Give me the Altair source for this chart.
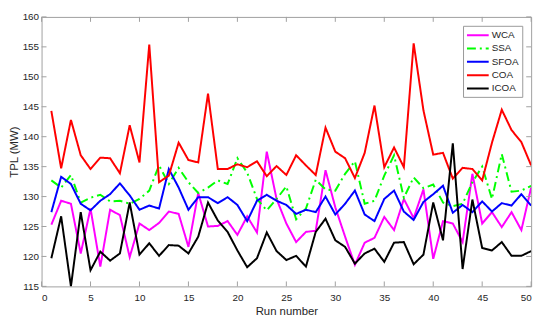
import altair as alt
import pandas as pd

runs = list(range(1, 51))
series_names = ["WCA", "SSA", "SFOA", "COA", "ICOA"]

wca = [125.3, 129.3, 128.8, 120.5, 128.0, 118.3, 127.8, 126.9, 119.9, 125.5,
       124.4, 125.6, 127.5, 127.1, 121.6, 130.6, 125.0, 125.1, 125.9, 123.6,
       126.7, 124.0, 137.5, 129.6, 125.5, 122.4, 124.1, 124.3, 134.4, 128.2,
       123.3, 118.6, 122.3, 123.1, 126.6, 124.4, 129.6, 126.4, 131.2, 119.6,
       125.9, 125.5, 122.4, 133.8, 125.5, 127.4, 124.9, 127.4, 124.4, 131.5]
ssa = [132.7, 131.5, 133.6, 129.0, 129.8, 130.3, 129.2, 129.3, 128.8, 129.6,
       131.0, 135.2, 132.1, 134.8, 132.4, 130.6, 131.5, 132.7, 132.1, 136.4,
       134.0, 129.6, 127.7, 129.6, 131.7, 126.2, 128.0, 132.8, 131.2, 131.0,
       133.8, 135.9, 128.8, 129.3, 133.5, 136.9, 129.8, 133.2, 131.4, 132.0,
       129.0, 128.4, 128.8, 132.4, 135.0, 129.6, 137.1, 130.8, 131.0, 131.8]
sfoa = [127.4, 133.3, 132.1, 128.8, 127.7, 129.3, 130.4, 132.2, 130.2, 127.8,
        128.5, 128.0, 134.6, 131.5, 127.8, 129.9, 129.9, 128.9, 129.9, 128.6,
        125.9, 129.3, 130.3, 129.3, 128.6, 127.1, 127.8, 127.4, 130.0, 127.0,
        128.8, 131.0, 127.0, 125.9, 129.6, 131.0, 127.5, 126.1, 129.1, 130.4,
        131.8, 127.3, 128.6, 127.4, 129.2, 127.5, 128.9, 128.5, 130.4, 128.5]
coa = [144.3, 134.7, 142.8, 136.9, 134.6, 136.5, 136.4, 133.9, 141.9, 135.7,
       155.4, 132.4, 133.5, 139.0, 136.1, 135.7, 147.2, 134.6, 134.6, 135.4,
       134.9, 135.9, 133.4, 135.1, 133.6, 136.9, 135.2, 133.6, 141.5, 137.5,
       136.4, 133.1, 137.3, 145.2, 134.9, 138.2, 134.9, 155.6, 144.4, 137.0,
       137.3, 133.0, 134.8, 134.6, 132.7, 139.0, 144.5, 141.1, 139.1, 135.2]
icoa = [119.7, 126.7, 115.0, 127.4, 117.7, 120.8, 119.3, 120.5, 129.0, 120.3,
        122.2, 120.1, 121.9, 121.8, 120.5, 123.3, 129.0, 126.0, 124.1, 121.0,
        118.2, 119.7, 124.0, 120.9, 119.4, 120.1, 118.3, 124.1, 126.3, 122.7,
        121.6, 118.8, 120.5, 121.3, 119.1, 122.3, 122.4, 118.7, 120.3, 129.0,
        122.7, 138.9, 117.9, 129.5, 121.4, 121.0, 122.4, 120.1, 120.1, 120.9]

x_ticks = list(range(0, 51, 5))
y_ticks = list(range(115, 161, 5))

colors = ["#ff00ff", "#00ff00", "#0000ff", "#ff0000", "#000000"]
dashes = [[1, 0], [9, 4, 2, 4], [1, 0], [1, 0], [1, 0]]

values = [wca, ssa, sfoa, coa, icoa]
rows = []
for name, vals in zip(series_names, values):
    for r, v in zip(runs, vals):
        rows.append({"Run": r, "TPL": v, "Series": name, "order": series_names.index(name)})
df = pd.DataFrame(rows)

W, H = 496, 273
frame = "#a0a0a0"
xscale = alt.Scale(domain=[0, 50], nice=False, zero=False)
yscale = alt.Scale(domain=[115, 160], nice=False, zero=False)

xaxis = alt.Axis(values=x_ticks, grid=False, ticks=False, tickSize=0, domain=False,
                 labelPadding=6, titlePadding=3, labelOverlap=False, title="Run number")
yaxis = alt.Axis(values=y_ticks, grid=False, ticks=False, tickSize=0, domain=False,
                 labelPadding=3, titlePadding=3, labelOverlap=False, title="TPL (MW)")

legend = alt.Legend(title=None, orient="top-right", offset=9,
                    symbolType="M-1,0H3", symbolSize=121,
                    symbolStrokeWidth=2, labelFontSize=10,
                    labelFont="Liberation Sans", labelColor="#262626",
                    rowPadding=1.5, padding=3, strokeColor="#999999",
                    fillColor="white", labelOffset=13)

lines = alt.Chart(df).mark_line(strokeWidth=2, clip=True).encode(
    x=alt.X("Run:Q", scale=xscale, axis=xaxis),
    y=alt.Y("TPL:Q", scale=yscale, axis=yaxis),
    color=alt.Color("Series:N", scale=alt.Scale(domain=series_names, range=colors),
                    sort=series_names, legend=legend),
    strokeDash=alt.StrokeDash("Series:N", scale=alt.Scale(domain=series_names, range=dashes),
                              sort=series_names, legend=legend),
    order=alt.Order("order:Q"),
    detail="Series:N",
)

ydf = pd.DataFrame({"v": y_ticks})
xdf = pd.DataFrame({"v": x_ticks})

ytick_l = alt.Chart(ydf).mark_rule(color=frame, strokeWidth=1).encode(
    y=alt.Y("v:Q", scale=yscale, axis=yaxis), x=alt.value(0), x2=alt.value(5))
ytick_r = alt.Chart(ydf).mark_rule(color=frame, strokeWidth=1).encode(
    y=alt.Y("v:Q", scale=yscale, axis=yaxis), x=alt.value(W - 5), x2=alt.value(W))
xtick_b = alt.Chart(xdf).mark_rule(color=frame, strokeWidth=1).encode(
    x=alt.X("v:Q", scale=xscale, axis=xaxis), y=alt.value(H - 5), y2=alt.value(H))
xtick_t = alt.Chart(xdf).mark_rule(color=frame, strokeWidth=1).encode(
    x=alt.X("v:Q", scale=xscale, axis=xaxis), y=alt.value(0), y2=alt.value(5))

chart = alt.layer(lines, ytick_l, ytick_r, xtick_b, xtick_t).properties(
    width=W, height=H,
    padding={"left": 0, "top": 2, "right": 10, "bottom": 0},
    background="white",
).configure_view(stroke=frame, strokeWidth=1).configure_axis(
    labelFont="Liberation Sans", titleFont="Liberation Sans",
    labelFontSize=10, titleFontSize=11.5, labelColor="#262626", titleColor="#262626",
    titleFontWeight="normal", labelOverlap=False,
)

chart.save("out.html", embed_options={"renderer": "svg", "actions": False})
